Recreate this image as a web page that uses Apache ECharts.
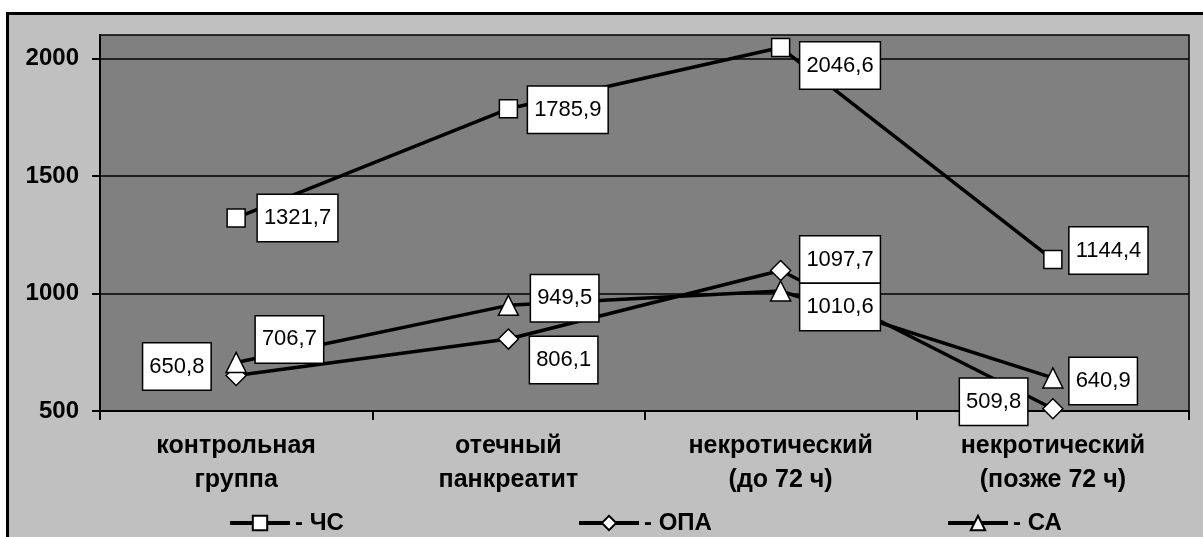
<!DOCTYPE html>
<html>
<head>
<meta charset="utf-8">
<script src="https://cdn.jsdelivr.net/npm/echarts@6/dist/echarts.min.js"></script>
<style>
  html, body { margin: 0; padding: 0; background: #ffffff; }
  #frame {
    position: absolute; left: 6px; top: 12px; width: 1300px; height: 700px;
    border: 3px solid #000; background: #c0c0c0; box-sizing: border-box;
  }
  #chart { position: absolute; left: 0; top: 0; width: 1203px; height: 537px; }
</style>
</head>
<body>
<div id="frame"></div>
<div id="chart"></div>
<script>
// Categories (groups of patients)
const categories = [
  'контрольная\nгруппа',
  'отечный\nпанкреатит',
  'некротический\n(до 72 ч)',
  'некротический\n(позже 72 ч)'
];

// Series values
const seriesNames = ['ЧС', 'ОПА', 'СА'];
const valuesCS  = [1321.7, 1785.9, 2046.6, 1144.4];
const valuesOPA = [650.8, 806.1, 1097.7, 509.8];
const valuesSA  = [706.7, 949.5, 1010.6, 640.9];

// Y axis ticks
const yTicks = [500, 1000, 1500, 2000];

// Label placement for each point: [side, dx, dy]
const placeCS  = [['right', 2, 0], ['right', 0, 1], ['right', 0, 18], ['right', -3, -9]];
const placeOPA = [['left', -5, -9], ['right', 1, 21], ['right', -1, -11], ['left', -5, -7]];
const placeSA  = [['right', -1, -23], ['right', 2, -7], ['right', -1, 16], ['right', -4, 3]];

const FONT = '"Liberation Sans", Arial, sans-serif';
const fmt = v => String(v).replace('.', ',');

function buildData(values, places) {
  return values.map((v, i) => ({
    value: v,
    label: {
      position: places[i][0],
      offset: [places[i][1], places[i][2]]
    }
  }));
}

function lineSeries(name, values, places, symbol, size) {
  return {
    name: name,
    type: 'line',
    data: buildData(values, places),
    symbol: symbol,
    symbolSize: size,
    showAllSymbol: true,
    lineStyle: { color: '#000', width: 3.5 },
    itemStyle: { color: '#fff', borderColor: '#000', borderWidth: 1.5 },
    label: {
      show: true,
      distance: 10,
      formatter: p => fmt(p.value),
      fontFamily: FONT,
      fontSize: 22,
      lineHeight: 24,
      color: '#000',
      backgroundColor: '#fff',
      borderColor: '#000',
      borderWidth: 1.5,
      padding: [11, 6, 11, 6]
    },
    emphasis: { disabled: true },
    animation: false
  };
}

function legendAt(name, left) {
  return {
    data: [name],
    left: left,
    top: 511,
    padding: 0,
    itemWidth: 60,
    itemHeight: 18,
    selectedMode: false,
    formatter: '- {name}',
    lineStyle: { width: 4 },
    textStyle: { fontFamily: FONT, fontSize: 24, fontWeight: 'bold', color: '#000' }
  };
}

const chart = echarts.init(document.getElementById('chart'), null, { renderer: 'canvas' });
chart.setOption({
  backgroundColor: 'transparent',
  animation: false,
  grid: {
    left: 100, right: 14, top: 35, bottom: 126,
    show: true, backgroundColor: '#808080', borderColor: '#000', borderWidth: 1.5
  },
  legend: [
    legendAt(seriesNames[0], 228),
    legendAt(seriesNames[1], 577),
    legendAt(seriesNames[2], 946)
  ],
  xAxis: {
    type: 'category',
    data: categories,
    boundaryGap: true,
    axisLine: { lineStyle: { color: '#000', width: 2 } },
    axisTick: { show: true, length: 9, lineStyle: { color: '#000', width: 2 } },
    axisLabel: {
      margin: 18,
      fontFamily: FONT, fontSize: 25, fontWeight: 'bold', color: '#000',
      lineHeight: 34, interval: 0
    }
  },
  yAxis: {
    type: 'value',
    min: 500, max: 2100, interval: 500,
    axisLine: { show: true, lineStyle: { color: '#000', width: 2 } },
    axisTick: { show: true, length: 8, lineStyle: { color: '#000', width: 2 }, customValues: yTicks },
    axisLabel: {
      margin: 21, customValues: yTicks,
      formatter: v => String(v),
      fontFamily: FONT, fontSize: 24, fontWeight: 'bold', color: '#000'
    },
    splitLine: { show: true, lineStyle: { color: '#000', width: 1.5 } }
  },
  series: [
    lineSeries(seriesNames[0], valuesCS, placeCS, 'rect', 18),
    lineSeries(seriesNames[1], valuesOPA, placeOPA, 'diamond', 20),
    lineSeries(seriesNames[2], valuesSA, placeSA, 'triangle', 20)
  ]
});
</script>
</body>
</html>
